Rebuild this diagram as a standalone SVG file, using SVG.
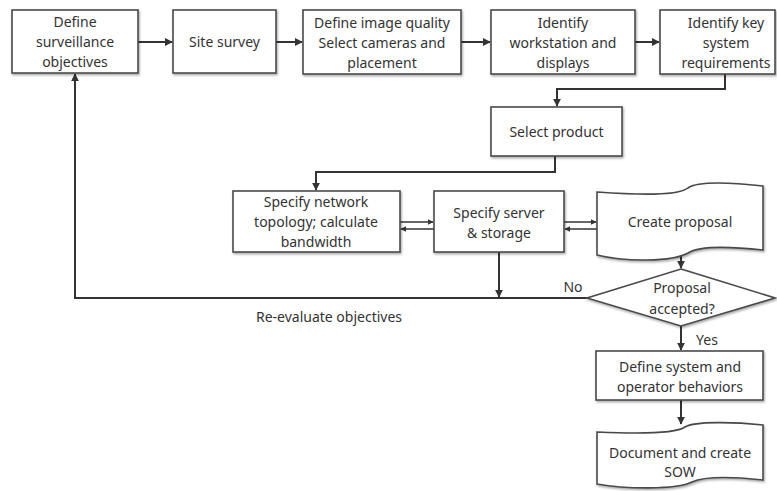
<svg xmlns="http://www.w3.org/2000/svg" width="777" height="491" viewBox="0 0 777 491">
<style>
.box{fill:#fff;stroke:#4a4a4a;stroke-width:1.6}
.t{font-family:"Noto Sans","Open Sans",sans-serif;font-size:14px;fill:#333;text-anchor:middle}
.c{fill:none;stroke:#333;stroke-width:2}
.c1{fill:none;stroke:#333;stroke-width:1.5}
</style>
<defs>
<marker id="a" viewBox="0 0 10 10" refX="9" refY="5" markerWidth="4" markerHeight="4" orient="auto" markerUnits="strokeWidth">
<path d="M0,0 L10,5 L0,10 z" fill="#333"/>
</marker>
<filter id="sh" x="-5%" y="-5%" width="115%" height="120%">
<feDropShadow dx="1" dy="1.5" stdDeviation="0.8" flood-color="#000" flood-opacity="0.35"/>
</filter>
</defs>
<rect width="777" height="491" fill="#fff"/>

<g id="connectors">
<path class="c" d="M138,42 L172,42" marker-end="url(#a)"/>
<path class="c" d="M276,42 L302,42" marker-end="url(#a)"/>
<path class="c" d="M461,42 L490,42" marker-end="url(#a)"/>
<path class="c" d="M635,42 L659,42" marker-end="url(#a)"/>
<path class="c" d="M725,74 L725,89 L557,89 L557,106" marker-end="url(#a)"/>
<path class="c" d="M555,156 L555,172 L316,172 L316,190" marker-end="url(#a)"/>
<path class="c1" d="M400,222 L433,222" marker-end="url(#a)"/>
<path class="c1" d="M434,229 L401,229" marker-end="url(#a)"/>
<path class="c1" d="M564,222 L596,222" marker-end="url(#a)"/>
<path class="c1" d="M597,229 L565,229" marker-end="url(#a)"/>
<path class="c" d="M499,252 L499,297" marker-end="url(#a)"/>
<path class="c" d="M587,298 L75,298 L75,74" marker-end="url(#a)"/>
<path class="c" d="M681,256 L681,268" marker-end="url(#a)"/>
<path class="c" d="M681,326 L681,350" marker-end="url(#a)"/>
<path class="c" d="M681,400 L681,424" marker-end="url(#a)"/>
<text class="t" x="573" y="292">No</text>
<text class="t" x="707" y="345">Yes</text>
<text class="t" x="329" y="322">Re-evaluate objectives</text>
</g>

<g id="n1">
<rect class="box" x="12" y="10" width="126" height="63" filter="url(#sh)"/>
<text class="t" x="75" y="27">Define</text>
<text class="t" x="75" y="47">surveillance</text>
<text class="t" x="75" y="67">objectives</text>
</g>

<g id="n2">
<rect class="box" x="173" y="10" width="103" height="63" filter="url(#sh)"/>
<text class="t" x="224.5" y="47">Site survey</text>
</g>

<g id="n3">
<rect class="box" x="303" y="10" width="158" height="64" filter="url(#sh)"/>
<text class="t" x="382" y="28">Define image quality</text>
<text class="t" x="382" y="48">Select cameras and</text>
<text class="t" x="382" y="68">placement</text>
</g>

<g id="n4">
<rect class="box" x="491" y="10" width="144" height="64" filter="url(#sh)"/>
<text class="t" x="563" y="28">Identify</text>
<text class="t" x="563" y="48">workstation and</text>
<text class="t" x="563" y="68">displays</text>
</g>

<g id="n5">
<rect class="box" x="660" y="10" width="115" height="64" filter="url(#sh)"/>
<text class="t" x="726" y="28">Identify key</text>
<text class="t" x="726" y="48">system</text>
<text class="t" x="726" y="68">requirements</text>
</g>

<g id="n6">
<rect class="box" x="491" y="107" width="131" height="49" filter="url(#sh)"/>
<text class="t" x="556.5" y="137">Select product</text>
</g>

<g id="n7">
<rect class="box" x="233" y="191" width="167" height="61" filter="url(#sh)"/>
<text class="t" x="316" y="207">Specify network</text>
<text class="t" x="316" y="227">topology; calculate</text>
<text class="t" x="316" y="247">bandwidth</text>
</g>

<g id="n8">
<rect class="box" x="434" y="191" width="130" height="61" filter="url(#sh)"/>
<text class="t" x="499" y="218">Specify server</text>
<text class="t" x="499" y="238">&amp; storage</text>
</g>

<g id="n9">
<path class="box" filter="url(#sh)" d="M597,192 C640,195 678,196 688,188 C698,181 735,183 763,186 L763,250 C735,247 700,245 688,253 C672,262 625,262 597,255 Z"/>
<text class="t" x="680" y="227">Create proposal</text>
</g>

<g id="n10">
<path class="box" filter="url(#sh)" d="M681,269 L775,298 L681,326 L587,298 Z"/>
<text class="t" x="682" y="293">Proposal</text>
<text class="t" x="682" y="314">accepted?</text>
</g>

<g id="n11">
<rect class="box" x="596" y="351" width="167" height="49" filter="url(#sh)"/>
<text class="t" x="680" y="372">Define system and</text>
<text class="t" x="680" y="392">operator behaviors</text>
</g>

<g id="n12">
<path class="box" filter="url(#sh)" d="M597,432 C640,434 675,434 685,427 C695,421 735,422 763,425 L763,480 C735,477 705,476 692,482 C676,490 625,489 597,484 Z"/>
<text class="t" x="680" y="458">Document and create</text>
<text class="t" x="680" y="477">SOW</text>
</g>
</svg>
